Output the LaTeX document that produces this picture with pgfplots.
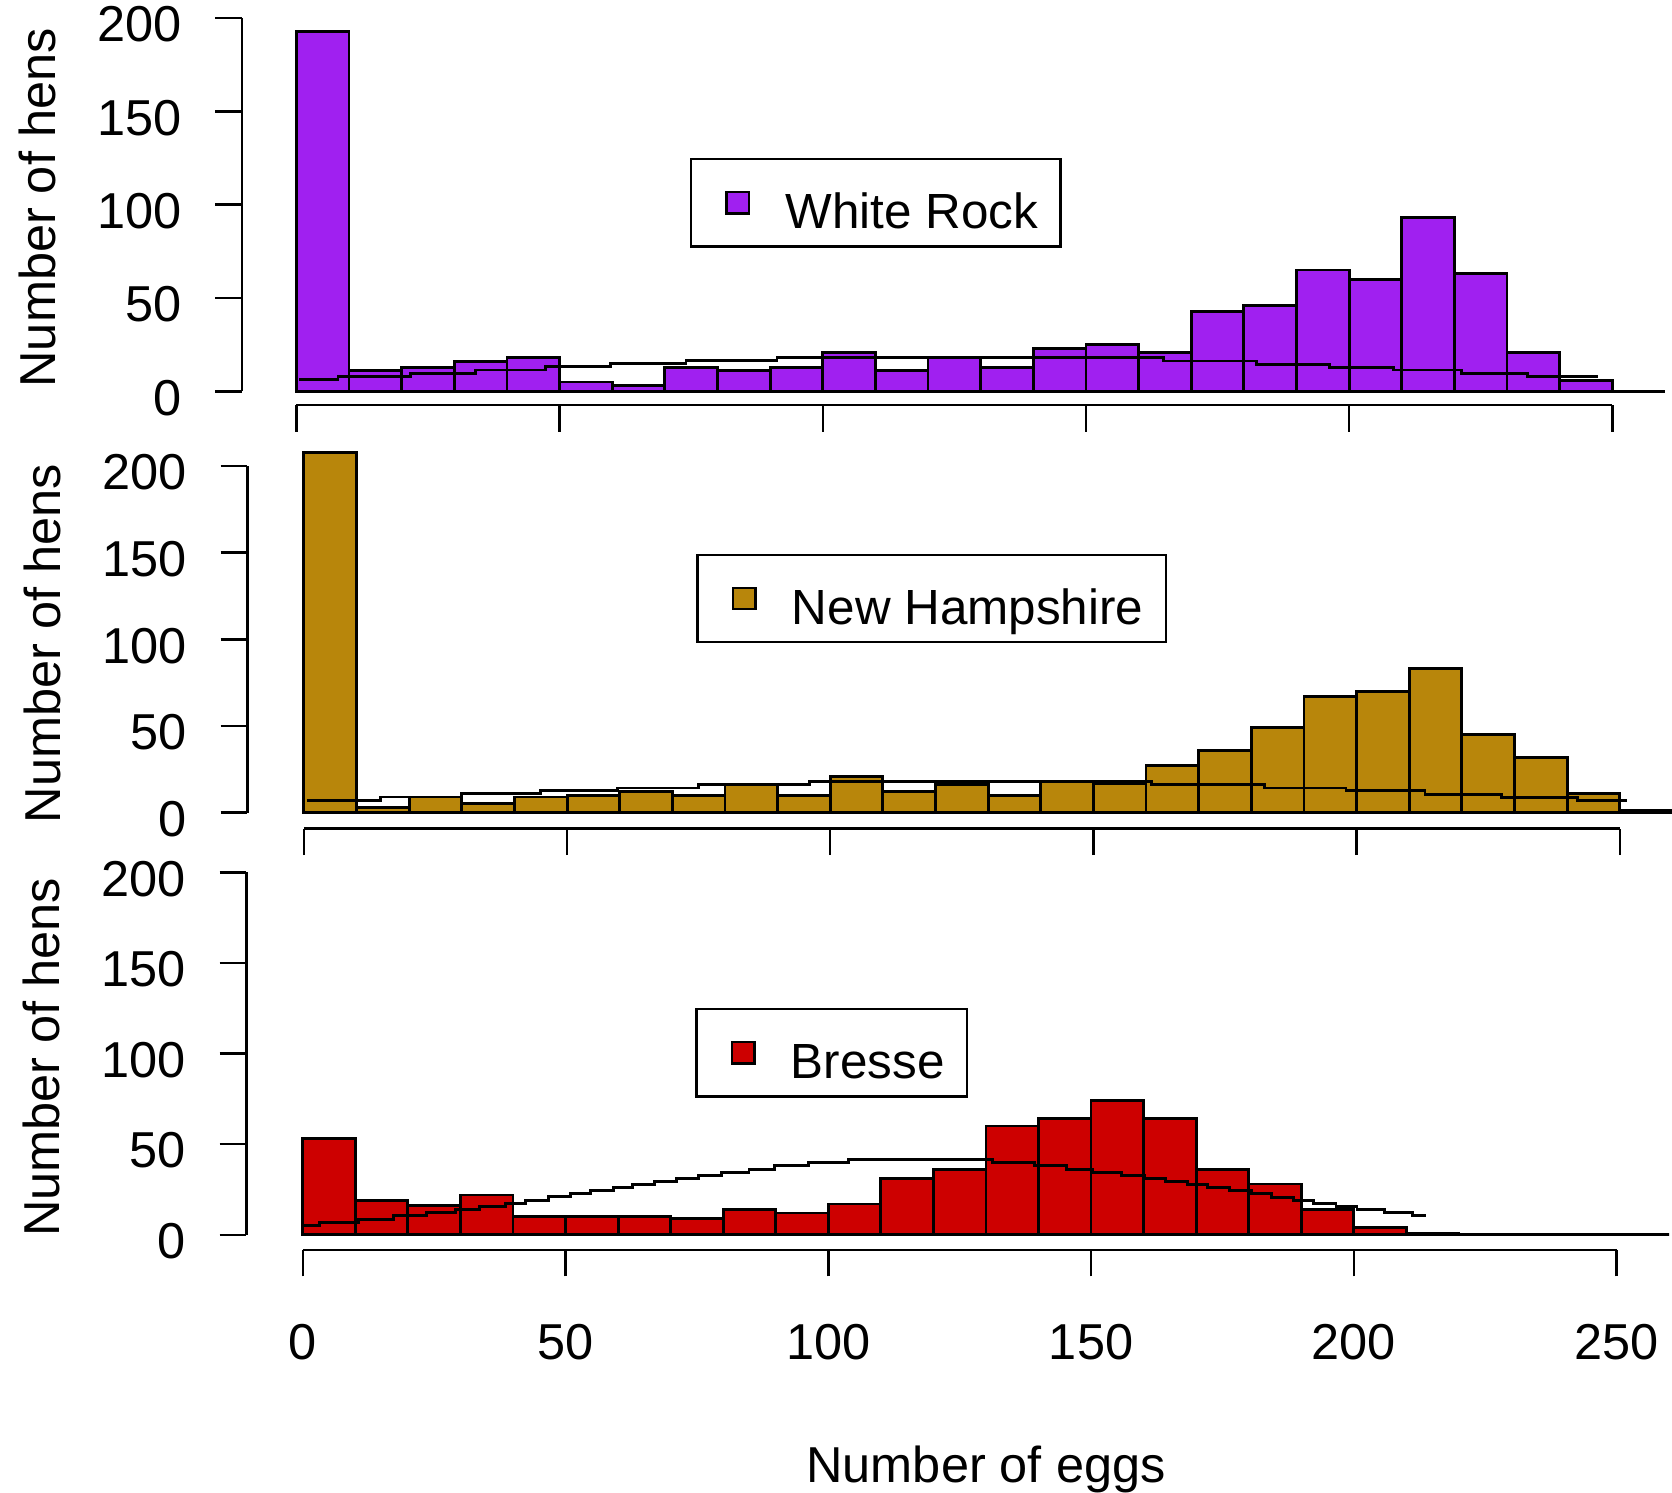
\documentclass[border=0pt]{standalone}
\usepackage{fontspec}
\setmainfont{Liberation Sans}
\usepackage{pgfplots}
\pgfplotsset{compat=1.18}
\usetikzlibrary{calc}
\definecolor{wrpurple}{HTML}{A020F0}
\definecolor{nhgold}{HTML}{B8860B}
\definecolor{brred}{HTML}{CD0000}

\tikzset{baseaxis/.style={line width=0.7pt}}
\pgfplotsset{
  henpanel/.style={
    scale only axis, anchor=south west, clip=false,
    xmax=270.4, ymax=204,
    axis x line*=bottom, axis y line*=left,
    axis line style={draw=none},
    tick align=outside, major tick length=7.5pt,
    tick style={black, line width=0.7pt},
    xtick={0,50,...,250}, ytick={0,50,...,200},
    /pgf/number format/assume math mode=true,
    yticklabel style={anchor=east, xshift=-4.6pt, yshift=-1.8pt},
    xticklabel style={anchor=base, yshift=-23.4pt},
    ylabel={Number of hens},
    every axis y label/.style={at={($(rel axis cs:0,0.5)+(-57.6pt,0)$)}, rotate=90, anchor=center},
    legend style={draw=black, line width=0.7pt, anchor=north west,
      inner xsep=6.3pt, inner ysep=0pt, column sep=9.9pt,
      font=\fontsize{13.9pt}{17pt}\selectfont,
      nodes={inner sep=0pt, text height=19.5pt, text depth=5.1pt}},
    legend image code/.code={\path (0pt,0pt);
      \draw[#1, draw=black, line width=0.7pt] (3.3pt,-3pt) rectangle (9.6pt,3pt);},
  },
  hist/.style={ybar interval, draw=black, line width=0.8pt},
  fit/.style={const plot, black, line width=0.8pt, forget plot},
}

\begin{document}%
\fontsize{14.2pt}{17pt}\selectfont%
\begin{tikzpicture}
\useasboundingbox (0pt,0pt) rectangle (470.4pt,-420pt);

% White Rock
\begin{axis}[henpanel, at={(68.1pt,-114pt)}, width=415.7pt, height=111pt,
  xmin=-10.33, ymin=-7.43, xticklabels={},
  legend style={at={(0.3031,0.6268)}}]
\addplot[hist, fill=wrpurple] coordinates {
(0,193) (10,11) (20,13) (30,16) (40,18) (50,5) (60,3) (70,13) (80,11) (90,13)
(100,21) (110,11) (120,18) (130,13) (140,23) (150,25) (160,21) (170,43) (180,46)
(190,65) (200,60) (210,93) (220,63) (230,21) (240,6) (250,0) (260,0)};
\addlegendentry{White Rock}
\addplot[fit] coordinates {
(0.5,6.3) (7.9,8.0) (21.6,9.6) (34,11.4) (47.4,13.2) (59.6,14.8) (74,16.4)
(91.3,18.0) (164.8,16.3) (182.4,14.6) (196.3,12.9) (208.4,11.4) (221.4,9.6)
(233.9,7.9) (247.2,7.9)};
\draw[baseaxis] (axis cs:0,-7.43) -- (axis cs:250,-7.43);
\draw[baseaxis] (axis cs:-10.33,0) -- (axis cs:-10.33,200);
\end{axis}

% New Hampshire
\begin{axis}[henpanel, at={(69.6pt,-233.1pt)}, width=416.3pt, height=103.95pt,
  xmin=-10.74, ymin=-9.23, xticklabels={},
  legend style={at={(0.3034,0.7444)}}]
\addplot[hist, fill=nhgold] coordinates {
(0,208) (10,3) (20,9) (30,5) (40,9) (50,10) (60,12) (70,10) (80,16) (90,10)
(100,21) (110,12) (120,16) (130,10) (140,18) (150,17) (160,27) (170,36) (180,49)
(190,67) (200,70) (210,83) (220,45) (230,32) (240,11) (250,1) (260,0)};
\addlegendentry{New Hampshire}
\addplot[fit] coordinates {
(0.5,7.1) (14.5,9.0) (30,10.8) (45,12.5) (59.5,14.2) (75,16.2) (96,17.9)
(161,16.2) (182.5,14.2) (198,12.5) (213,10.6) (227.5,8.8) (242,7.1) (251.3,7.1)};
\draw[baseaxis] (axis cs:0,-9.23) -- (axis cs:250,-9.23);
\draw[baseaxis] (axis cs:-10.74,0) -- (axis cs:-10.74,200);
\end{axis}

% Bresse
\begin{axis}[henpanel, at={(69.3pt,-351.6pt)}, width=415.65pt, height=108.24pt,
  xmin=-10.75, ymin=-8.24,
  xlabel={Number of eggs},
  every axis x label/.style={at={(axis cs:130,-8.24)}, anchor=base, yshift=-65.4pt},
  legend style={at={(0.3039,0.6292)}}]
\addplot[hist, fill=brred] coordinates {
(0,53) (10,19) (20,16) (30,22) (40,10) (50,10) (60,10) (70,9) (80,14) (90,12)
(100,17) (110,31) (120,36) (130,60) (140,64) (150,74) (160,64) (170,36) (180,28)
(190,14) (200,4) (210,1) (220,0) (230,0) (240,0) (250,0) (260,0)};
\addlegendentry{Bresse}
\addplot[fit] coordinates {
(0,5.1) (3.1,6.8) (10.6,8.6) (17.2,10.5) (23.6,12.1) (29,13.8) (33.7,15.6)
(38.6,17.3) (42.4,19.1) (46.8,21.0) (51,22.6) (54.8,24.3) (59.2,26.1) (62.7,27.8)
(67,29.6) (71.1,31.3) (75.3,32.9) (79.7,34.6) (84.9,36.2) (89.7,38.1) (96.3,39.7)
(103.8,41.4) (131.3,39.7) (139.2,38.1) (145.4,36.2) (150.2,34.6) (155.8,32.9)
(160.2,31.1) (164.1,29.4) (168.3,27.8) (172.2,25.9) (176.3,24.3) (180.5,22.6)
(184.4,20.8) (188.5,19.1) (192.3,17.5) (196.6,15.6) (200.6,14.0) (205.9,12.1)
(211.1,10.5) (213.8,10.5)};
\draw[baseaxis] (axis cs:0,-8.24) -- (axis cs:250,-8.24);
\draw[baseaxis] (axis cs:-10.75,0) -- (axis cs:-10.75,200);
\end{axis}
\end{tikzpicture}%
\end{document}
